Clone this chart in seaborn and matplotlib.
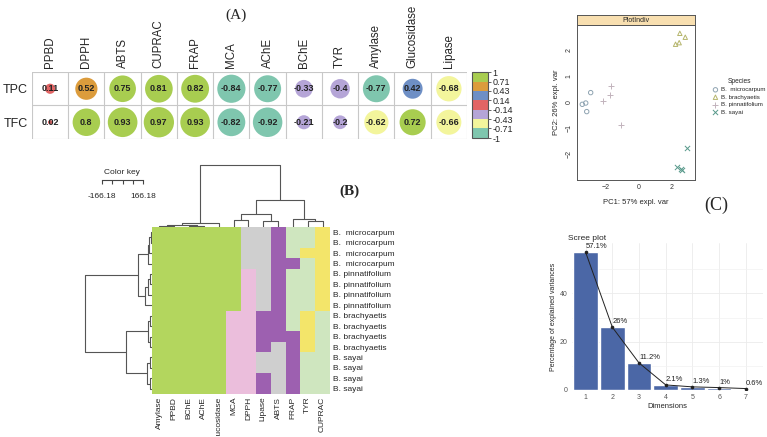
import numpy as np
import pandas as pd
import matplotlib
import matplotlib.pyplot as plt
import seaborn as sns
from matplotlib.colors import ListedColormap, BoundaryNorm

matplotlib.use("Agg")

W, H = 767, 437

# ---------------------------------------------------------------
# (A) correlation of TPC / TFC with assays
# ---------------------------------------------------------------
CORR_COLS = ["PPBD", "DPPH", "ABTS", "CUPRAC", "FRAP", "MCA", "AChE",
             "BChE", "TYR", "Amylase", "Glucosidase", "Lipase"]
CORR_ROWS = ["TPC", "TFC"]
TPC_R = [0.11, 0.52, 0.75, 0.81, 0.82, -0.84, -0.77, -0.33, -0.4, -0.77, 0.42, -0.68]
TFC_R = [0.02, 0.8, 0.93, 0.97, 0.93, -0.82, -0.92, -0.21, -0.2, -0.62, 0.72, -0.66]
TPC_TXT = ["0.11", "0.52", "0.75", "0.81", "0.82", "-0.84", "-0.77", "-0.33", "-0.4", "-0.77", "0.42", "-0.68"]
TFC_TXT = ["0.02", "0.8", "0.93", "0.97", "0.93", "-0.82", "-0.92", "-0.21", "-0.2", "-0.62", "0.72", "-0.66"]
CORR_BOUNDS = [-1, -0.71, -0.43, -0.14, 0.14, 0.43, 0.71, 1]
CORR_COLORS = ["#7fc6ae", "#f3f59c", "#b5a5d7", "#e26565", "#6e8fc5", "#dc9c3c", "#a8cd50"]

# ---------------------------------------------------------------
# (B) clustered heatmap (colour classes)
# ---------------------------------------------------------------
HM_COLS = ["Amylase", "PPBD", "BChE", "AChE", "Glucosidase", "MCA", "DPPH",
           "Lipase", "ABTS", "FRAP", "TYR", "CUPRAC"]
HM_ROWS = ["B.  microcarpum"] * 4 + ["B. pinnatifolium"] * 4 + \
          ["B. brachyaetis"] * 4 + ["B. sayai"] * 4
# G green, S grey, P purple, L light green, Y yellow, K pink
HM_CELLS = [
    "GGGGGGSSPLLY",
    "GGGGGGSSPLLY",
    "GGGGGGSSPLYY",
    "GGGGGGSSPPLY",
    "GGGGGGKSPLLY",
    "GGGGGGKSPLLY",
    "GGGGGGKSPLLY",
    "GGGGGGKSPLLY",
    "GGGGGKKPPLYL",
    "GGGGGKKPPLYL",
    "GGGGGKKPPPYL",
    "GGGGGKKPSPYL",
    "GGGGGKKSSPLL",
    "GGGGGKKSSPLL",
    "GGGGGKKPSPLL",
    "GGGGGKKPSPLL",
]
HM_KEYS = "GSPLYK"
HM_COLORS = ["#b3d65e", "#cfcfcf", "#9d60b0", "#cfe6bf", "#f3e56a", "#ebbedc"]
# dendrograms: (left, right, height)
COL_TREE = ((((0, 1, 1.0), (2, 3, 1.5), 2.5), 4, 4.0),
            (((5, 6, 7.0), (7, 8, 6.3), 13.0), (9, (10, 11, 6.0), 8.0), 27.0), 62.0)
ROW_TREE = (((((0, 1, 1.5), 2, 3.0), 3, 4.5), (((4, 5, 2.0), 6, 4.0), 7, 7.0), 14.0),
            (((8, 9, 2.0), (10, 11, 2.5), 4.0), ((12, 13, 2.0), (14, 15, 2.5), 5.0), 26.0), 67.0)

# ---------------------------------------------------------------
# (C) PCA individuals + scree
# ---------------------------------------------------------------
SPECIES = ["B.  microcarpum", "B. brachyaetis", "B. pinnatifolium", "B. sayai"]
SP_COLORS = ["#8ea3b1", "#b5b56c", "#c2b3bc", "#57998a"]
SP_MARKERS = ["o", "^", "+", "x"]
PC1 = {
    "B.  microcarpum": [-3.44, -3.23, -3.17, -2.93],
    "B. brachyaetis": [2.48, 2.81, 2.22, 2.44],
    "B. pinnatifolium": [-1.72, -1.74, -2.2, -1.09],
    "B. sayai": [2.89, 2.3, 2.59, 2.53],
}
PC2 = {
    "B.  microcarpum": [-0.09, -0.04, -0.37, 0.36],
    "B. brachyaetis": [2.64, 2.49, 2.22, 2.28],
    "B. pinnatifolium": [0.62, 0.26, 0.05, -0.9],
    "B. sayai": [-1.78, -2.49, -2.62, -2.59],
}
DIMS = ["1", "2", "3", "4", "5", "6", "7"]
EXPL_VAR = [57.1, 26.0, 11.2, 2.1, 1.3, 1.0, 0.6]
EXPL_TXT = ["57.1%", "26%", "11.2%", "2.1%", "1.3%", "1%", "0.6%"]


def box(x0, y0, x1, y1):
    """pixel box (top-left origin) -> figure fraction rect"""
    return [x0 / W, 1 - y1 / H, (x1 - x0) / W, (y1 - y0) / H]


def draw_tree(ax, node, orient):
    if isinstance(node, int):
        return node + 0.5, 0.0
    a, b, h = node
    pa, ha = draw_tree(ax, a, orient)
    pb, hb = draw_tree(ax, b, orient)
    if orient == "top":
        ax.plot([pa, pa, pb, pb], [ha, h, h, hb], color="#555555", lw=0.8)
    else:
        ax.plot([ha, h, h, hb], [pa, pa, pb, pb], color="#555555", lw=0.8)
    return (pa + pb) / 2, h


sns.set_style("white")
plt.rcParams["font.family"] = ["Liberation Sans", "DejaVu Sans"]
fig = plt.figure(figsize=(W / 100, H / 100), dpi=100)

# ---------------- panel A ----------------
ax_a = fig.add_axes(box(32, 72, 467, 139))
cmap_a = ListedColormap(CORR_COLORS)
norm_a = BoundaryNorm(CORR_BOUNDS, cmap_a.N)
for r, (vals, txts) in enumerate([(TPC_R, TPC_TXT), (TFC_R, TFC_TXT)]):
    vals = np.array(vals)
    xs = np.arange(len(vals)) + 0.5
    ax_a.scatter(xs, np.full(len(vals), r + 0.5), s=490 * np.abs(vals),
                 c=cmap_a(norm_a(vals)), linewidths=0, zorder=2)
    for x, t in zip(xs, txts):
        ax_a.text(x, r + 0.5, t, ha="center", va="center", fontsize=6.5,
                  fontweight="bold", color="#222222", zorder=3)
for k in range(13):
    ax_a.axvline(k, color="#c8c8c8", lw=0.8, zorder=1)
for k in range(3):
    ax_a.axhline(k, color="#c8c8c8", lw=0.8, zorder=1)
ax_a.set_xlim(0, 12)
ax_a.set_ylim(2, 0)
ax_a.xaxis.tick_top()
ax_a.set_xticks(np.arange(12) + 0.5)
ax_a.set_xticklabels(CORR_COLS, rotation=90, fontsize=8.3)
ax_a.set_yticks([0.5, 1.5])
ax_a.set_yticklabels(CORR_ROWS, fontsize=9)
ax_a.tick_params(length=0, pad=3)
for s in ax_a.spines.values():
    s.set_visible(False)

cax = fig.add_axes(box(472, 72, 488, 138))
cb = matplotlib.colorbar.ColorbarBase(cax, cmap=cmap_a, norm=norm_a,
                                      ticks=CORR_BOUNDS, spacing="proportional")
cb.ax.set_yticklabels(["-1", "-0.71", "-0.43", "-0.14", "0.14", "0.43", "0.71", "1"])
cb.ax.tick_params(labelsize=6.5, length=2, width=0.5, pad=1)
cb.outline.set_edgecolor("#555555")
cb.outline.set_linewidth(0.8)
fig.text(236 / W, 1 - 15 / H, "(A)", ha="center", va="center", fontsize=11,
         family=["Liberation Serif", "DejaVu Serif"])

# ---------------- panel B ----------------
codes = np.array([[HM_KEYS.index(c) for c in row] for row in HM_CELLS])
hm_df = pd.DataFrame(codes, index=HM_ROWS, columns=HM_COLS)
ax_b = fig.add_axes(box(152, 227, 330, 394))
sns.heatmap(hm_df, cmap=ListedColormap(HM_COLORS), vmin=-0.5, vmax=5.5,
            cbar=False, ax=ax_b, xticklabels=HM_COLS, yticklabels=HM_ROWS)
ax_b.yaxis.tick_right()
ax_b.set_yticklabels(HM_ROWS, rotation=0, fontsize=6)
ax_b.set_xticklabels(HM_COLS, rotation=90, fontsize=6)
ax_b.tick_params(length=0, pad=2)
ax_b.set_xlabel("")
ax_b.set_ylabel("")

ax_cd = fig.add_axes(box(152, 160, 330, 227))
draw_tree(ax_cd, COL_TREE, "top")
ax_cd.set_xlim(0, 12)
ax_cd.set_ylim(0, 67)
ax_cd.axis("off")

ax_rd = fig.add_axes(box(80, 227, 152, 394))
draw_tree(ax_rd, ROW_TREE, "left")
ax_rd.set_ylim(16, 0)
ax_rd.set_xlim(72, 0)
ax_rd.axis("off")

# color key
ax_k = fig.add_axes(box(102, 180, 143, 184))
ax_k.set_xlim(-166.18, 166.18)
ax_k.set_yticks([])
ax_k.xaxis.tick_top()
ax_k.set_xticks(np.linspace(-166.18, 166.18, 5))
ax_k.set_xticklabels([])
ax_k.tick_params(axis="x", direction="in", length=3, width=0.8, color="#444444")
for name, s in ax_k.spines.items():
    s.set_visible(name == "top")
    s.set_color("#444444")
fig.text(122 / W, 1 - 173 / H, "Color key", ha="center", va="center", fontsize=6)
fig.text(102 / W, 1 - 196 / H, "-166.18", ha="center", va="center", fontsize=6)
fig.text(143 / W, 1 - 196 / H, "166.18", ha="center", va="center", fontsize=6)
fig.text(349 / W, 1 - 191 / H, "(B)", ha="center", va="center", fontsize=11,
         fontweight="bold", family=["Liberation Serif", "DejaVu Serif"])

# ---------------- panel C: PCA ----------------
ax_p = fig.add_axes(box(577, 25, 695, 180))
for sp, col, mk in zip(SPECIES, SP_COLORS, SP_MARKERS):
    if mk in ("+", "x"):
        ax_p.scatter(PC1[sp], PC2[sp], marker=mk, s=14, color=col, linewidths=0.7, label=sp)
    else:
        ax_p.scatter(PC1[sp], PC2[sp], marker=mk, s=10, facecolors="none",
                     edgecolors=col, linewidths=0.7, label=sp)
ax_p.set_xlim(-3.76, 3.4)
ax_p.set_ylim(-3.0, 2.96)
ax_p.set_xticks([-2, 0, 2])
ax_p.set_yticks([-2, -1, 0, 1, 2])
ax_p.tick_params(labelsize=5, length=2, width=0.5, pad=1, colors="#333333")
for lab in ax_p.get_yticklabels():
    lab.set_rotation(90)
    lab.set_va("center")
for s in ax_p.spines.values():
    s.set_color("#555555")
    s.set_linewidth(0.7)
ax_p.set_xlabel("PC1: 57% expl. var", fontsize=5.5, labelpad=6)
ax_p.set_ylabel("PC2: 26% expl. var", fontsize=5.5, labelpad=4)
leg = ax_p.legend(loc="upper left", bbox_to_anchor=(713 / W, 1 - 78 / H),
                  bbox_transform=fig.transFigure, frameon=False, fontsize=4.4,
                  title="Species", title_fontsize=4.8, labelspacing=0.35,
                  handletextpad=0.5, borderpad=0, handlelength=0.8,
                  borderaxespad=0)

ax_s = fig.add_axes(box(577, 15, 695, 25))
ax_s.set_facecolor("#f8dfb0")
ax_s.set_xticks([])
ax_s.set_yticks([])
for s in ax_s.spines.values():
    s.set_color("#555555")
    s.set_linewidth(0.7)
ax_s.text(0.5, 0.5, "PlotIndiv", ha="center", va="center", fontsize=5,
          transform=ax_s.transAxes)
fig.text(716 / W, 1 - 205 / H, "(C)", ha="center", va="center", fontsize=13,
         family=["Liberation Serif", "DejaVu Serif"])

# ---------------- panel C: scree ----------------
ax_sc = fig.add_axes(box(572, 243, 763, 390))
scree = pd.DataFrame({"dim": DIMS, "var": EXPL_VAR})
sns.barplot(data=scree, x="dim", y="var", color="#4b67a6", saturation=1,
            width=0.92, ax=ax_sc, zorder=2)
ax_sc.plot(np.arange(len(DIMS)), EXPL_VAR, color="#222222", lw=0.7,
           marker="o", ms=1.6, zorder=3)
for i, (v, t) in enumerate(zip(EXPL_VAR, EXPL_TXT)):
    ax_sc.text(i, v + 0.8, t, ha="left", va="bottom", fontsize=5.5, color="#222222", zorder=4)
ax_sc.set_xlim(-0.51, 6.64)
ax_sc.set_ylim(0, 60.9)
ax_sc.set_yticks([0, 20, 40])
ax_sc.set_yticks([10, 30, 50], minor=True)
ax_sc.grid(True, which="major", color="#ebebeb", lw=0.6, zorder=0)
ax_sc.grid(True, which="minor", axis="y", color="#f2f2f2", lw=0.5, zorder=0)
ax_sc.tick_params(labelsize=5, length=2, width=0.5, pad=1, colors="#555555")
ax_sc.tick_params(which="minor", length=0)
for s in ax_sc.spines.values():
    s.set_visible(False)
ax_sc.set_xlabel("Dimensions", fontsize=5.5, labelpad=1)
ax_sc.set_ylabel("Percentage of explained variances", fontsize=5, labelpad=2)
ax_sc.set_title("Scree plot", loc="left", fontsize=6, pad=2, x=-0.02)

fig.savefig("out.png", dpi=100)
